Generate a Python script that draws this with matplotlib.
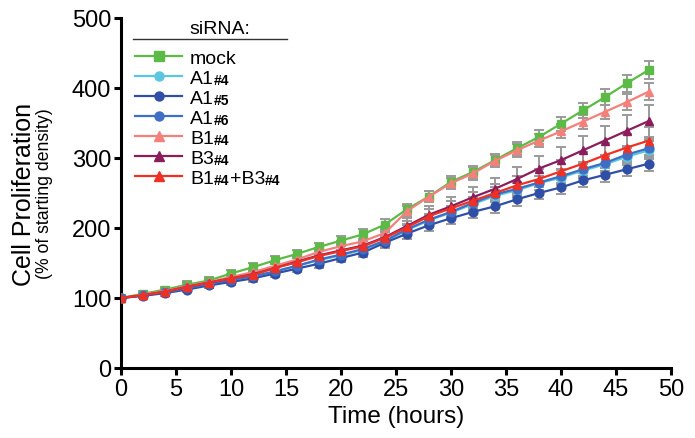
import matplotlib
matplotlib.use("Agg")
import matplotlib.pyplot as plt
from matplotlib.lines import Line2D

plt.rcParams['font.family'] = ['Liberation Sans', 'DejaVu Sans']

hours = [0, 2, 4, 6, 8, 10, 12, 14, 16, 18, 20, 22, 24, 26, 28, 30, 32, 34, 36, 38, 40, 42, 44, 46, 48]

mock = [100, 106, 112, 119, 125, 135, 144, 154, 163, 173, 182, 191, 205, 227, 245, 266, 280, 297, 314, 330, 349, 368, 387, 407, 426]
a1_4 = [100, 104, 108, 114, 120, 126, 131, 138, 146, 154, 161, 169, 181, 197, 211, 222, 234, 246, 254, 264, 272, 282, 291, 302, 311]
a1_5 = [100, 103, 107, 112, 118, 123, 128, 135, 142, 149, 157, 165, 179, 192, 204, 214, 223, 231, 241, 250, 258, 268, 276, 284, 292]
a1_6 = [100, 104, 108, 114, 120, 126, 131, 138, 146, 155, 162, 170, 182, 198, 212, 223, 236, 248, 256, 265, 274, 284, 293, 305, 314]
b1_4 = [100, 105, 110, 117, 123, 130, 137, 146, 155, 166, 174, 181, 193, 224, 245, 264, 278, 296, 311, 325, 338, 352, 366, 380, 395]
b3_4 = [100, 104, 109, 116, 122, 128, 134, 143, 152, 161, 168, 175, 187, 203, 219, 231, 244, 256, 270, 285, 297, 311, 325, 339, 353]
b1b3 = [100, 104, 109, 116, 122, 128, 133, 143, 151, 160, 167, 174, 186, 201, 217, 228, 239, 250, 261, 270, 281, 292, 304, 315, 325]

mock_err = [3, 4, 4, 5, 5, 5, 6, 6, 6, 6, 7, 7, 8, 8, 8, 9, 9, 9, 9, 10, 10, 11, 11, 12, 13]
a1_4_err = [3, 4, 4, 5, 5, 5, 5, 6, 6, 6, 7, 7, 7, 8, 8, 9, 9, 9, 10, 10, 11, 11, 12, 12, 13]
a1_5_err = [3, 3, 4, 4, 4, 5, 5, 5, 5, 6, 6, 6, 7, 7, 8, 8, 8, 9, 9, 9, 10, 10, 10, 10, 10]
a1_6_err = [3, 4, 4, 5, 5, 5, 5, 6, 6, 6, 7, 7, 7, 8, 8, 9, 9, 10, 10, 10, 11, 11, 12, 12, 13]
b1_4_err = [3, 4, 4, 5, 5, 5, 6, 6, 6, 6, 7, 7, 7, 8, 8, 8, 9, 9, 9, 9, 10, 10, 10, 11, 12]
b3_4_err = [3, 4, 4, 5, 5, 6, 6, 7, 7, 8, 9, 10, 11, 12, 13, 14, 15, 16, 17, 18, 19, 20, 21, 22, 23]
b1b3_err = [3, 4, 4, 5, 5, 5, 6, 6, 6, 7, 7, 8, 8, 9, 10, 11, 12, 13, 14, 15, 16, 17, 18, 19, 20]

labels = ["mock", "A1", "A1", "A1", "B1", "B3", "B1"]
suffixes = ["", "#4", "#5", "#6", "#4", "#4", "#4"]
series = [mock, a1_4, a1_5, a1_6, b1_4, b3_4, b1b3]
errors = [mock_err, a1_4_err, a1_5_err, a1_6_err, b1_4_err, b3_4_err, b1b3_err]
colors = ["#5cbb46", "#5bc6df", "#2f4ea6", "#3f6fc4", "#f4807c", "#8c1d5c", "#ee3124"]
markers = ["s", "o", "o", "o", "^", "^", "^"]

fig = plt.figure(figsize=(6.95, 4.39), dpi=100)
ax = fig.add_axes([121 / 695, 70 / 439, 550 / 695, 350 / 439])

# error bars first, lines on top
for y, e in zip(series, errors):
    ax.errorbar(hours, y, yerr=e, fmt="none", ecolor="#9a9a9a", elinewidth=1.4,
                capsize=3.8, capthick=1.4, zorder=2)

handles = []
for y, c, m, lab in zip(series, colors, markers, labels):
    ax.plot(hours, y, color=c, marker=m, ms=6.3, lw=1.6, zorder=3, label=lab)
    handles.append(Line2D([], [], color=c, marker=m, ms=6.5, lw=1.6))

ax.set_xlim(0, 50)
ax.set_ylim(0, 500)
ax.set_xticks([0, 5, 10, 15, 20, 25, 30, 35, 40, 45, 50])
ax.set_yticks([0, 100, 200, 300, 400, 500])
for s in ["top", "right"]:
    ax.spines[s].set_visible(False)
for s in ["left", "bottom"]:
    ax.spines[s].set_linewidth(2.2)
ax.tick_params(width=2.2, length=5, labelsize=17, pad=2)

ax.set_xlabel("Time (hours)", fontsize=17.5, labelpad=4)
fig.text(24 / 695, 0.558, "Cell Proliferation", rotation=90, fontsize=18, ha="center", va="center")
fig.text(45 / 695, 0.558, "(% of starting density)", rotation=90, fontsize=12.7, ha="center", va="center")

leg = ax.legend(handles, labels, loc="upper left", bbox_to_anchor=(0.025, 0.91),
                frameon=False, fontsize=14, handlelength=2.45,
                handletextpad=0.4, labelspacing=0.12, borderpad=0, borderaxespad=0)

# legend title with underline
ax.text(0.18, 0.969, "siRNA:", transform=ax.transAxes, fontsize=14, ha="center", va="center")
ax.plot([0.022, 0.302], [0.941, 0.941], transform=ax.transAxes, color="#333333", lw=1.0, clip_on=False)

texts = leg.get_texts()
for txt, suf in zip(texts, suffixes):
    if suf:
        last = ax.annotate(suf, xy=(1, 0), xycoords=txt, va="bottom", ha="left",
                           fontsize=10, fontweight="bold", zorder=10)
plus = ax.annotate("+B3", xy=(1, 0), xycoords=last, va="bottom", ha="left", fontsize=14, zorder=11)
ax.annotate("#4", xy=(1, 0), xycoords=plus, va="bottom", ha="left", fontsize=10,
            fontweight="bold", zorder=12)

fig.savefig("out.png", dpi=100)
